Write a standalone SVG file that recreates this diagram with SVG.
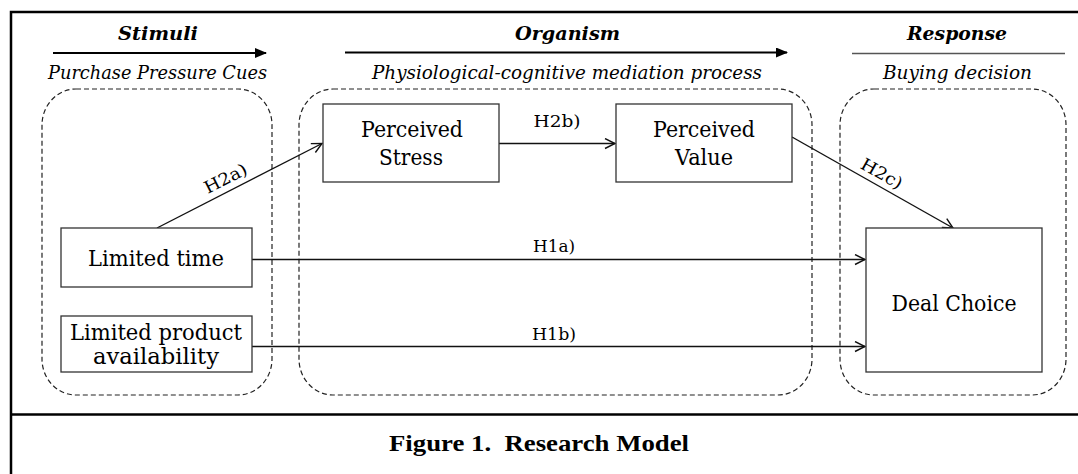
<svg xmlns="http://www.w3.org/2000/svg" width="1078" height="474" viewBox="0 0 1078 474">
<style>
.frame{stroke:#000;stroke-width:2.5;fill:none}
.grp{fill:none;stroke:#222;stroke-width:1.2;stroke-dasharray:5 3}
.node{fill:#fff;stroke:#333;stroke-width:1.3}
.conn{stroke:#111;stroke-width:1.4;fill:none}
.t{font-family:"DejaVu Serif","Liberation Serif",serif;font-size:22px;fill:#000;text-anchor:middle}
.lbl{font-family:"DejaVu Serif","Liberation Serif",serif;font-size:17px;fill:#000;text-anchor:middle}
.hd{font-family:"DejaVu Serif","Liberation Serif",serif;font-size:18px;font-weight:bold;font-style:italic;fill:#000;text-anchor:middle}
.sub{font-family:"DejaVu Serif","Liberation Serif",serif;font-size:19px;font-style:italic;fill:#000;text-anchor:middle}
.cap{font-family:"Liberation Serif","Times New Roman",serif;font-size:24px;font-weight:bold;fill:#000;text-anchor:middle;white-space:pre}
</style>
<defs>
<marker id="open" markerWidth="12" markerHeight="12" refX="11" refY="6" orient="auto" markerUnits="userSpaceOnUse">
<path d="M1,1 L11,6 L1,11" fill="none" stroke="#111" stroke-width="1.4"/>
</marker>
<marker id="solid" markerWidth="12" markerHeight="10" refX="11" refY="5" orient="auto" markerUnits="userSpaceOnUse">
<path d="M0,0 L12,5 L0,10 Z" fill="#000"/>
</marker>
</defs>
<rect width="1078" height="474" fill="#fff"/>
<g id="frame">
<path class="frame" d="M1078,12 H11 V474"/>
<line class="frame" x1="11" y1="414.5" x2="1078" y2="414.5"/>
</g>
<g id="headers">
<text class="hd" x="158" y="40" textLength="80" lengthAdjust="spacingAndGlyphs">Stimuli</text>
<line x1="53" y1="53" x2="266" y2="53" stroke="#000" stroke-width="2" marker-end="url(#solid)"/>
<text class="sub" x="157.5" y="79" textLength="219" lengthAdjust="spacingAndGlyphs">Purchase Pressure Cues</text>
<text class="hd" x="567.5" y="40" textLength="105" lengthAdjust="spacingAndGlyphs">Organism</text>
<line x1="345" y1="52.5" x2="787" y2="52.5" stroke="#000" stroke-width="2" marker-end="url(#solid)"/>
<text class="sub" x="567" y="79" textLength="390" lengthAdjust="spacingAndGlyphs">Physiological-cognitive mediation process</text>
<text class="hd" x="957" y="40" textLength="100" lengthAdjust="spacingAndGlyphs">Response</text>
<line x1="852" y1="53.5" x2="1065" y2="53.5" stroke="#555" stroke-width="1.6"/>
<text class="sub" x="957.5" y="79" textLength="149" lengthAdjust="spacingAndGlyphs">Buying decision</text>
</g>
<g id="groups">
<rect class="grp" x="42" y="89" width="230" height="306" rx="34" ry="36"/>
<rect class="grp" x="299" y="89" width="513" height="306" rx="34" ry="36"/>
<rect class="grp" x="840" y="89" width="226" height="306" rx="34" ry="36"/>
</g>
<g id="connectors">
<line class="conn" x1="157" y1="228" x2="322" y2="143.5" marker-end="url(#open)"/>
<line class="conn" x1="499" y1="143.5" x2="615" y2="143.5" marker-end="url(#open)"/>
<line class="conn" x1="792" y1="137" x2="953" y2="228" marker-end="url(#open)"/>
<line class="conn" x1="252" y1="259.5" x2="865" y2="259.5" marker-end="url(#open)"/>
<line class="conn" x1="252" y1="346.5" x2="865" y2="346.5" marker-end="url(#open)"/>
<text class="lbl" transform="translate(231,189) rotate(-27)" x="0" y="-6" textLength="46" lengthAdjust="spacingAndGlyphs">H2a)</text>
<text class="lbl" x="557" y="127" textLength="47" lengthAdjust="spacingAndGlyphs">H2b)</text>
<text class="lbl" transform="translate(876,184) rotate(29.5)" x="0" y="-6" textLength="45" lengthAdjust="spacingAndGlyphs">H2c)</text>
<text class="lbl" x="554" y="252" textLength="42" lengthAdjust="spacingAndGlyphs">H1a)</text>
<text class="lbl" x="554" y="340" textLength="44" lengthAdjust="spacingAndGlyphs">H1b)</text>
</g>
<g id="node-stress">
<rect class="node" x="323" y="104" width="176" height="78"/>
<text class="t" x="412" y="137" textLength="102" lengthAdjust="spacingAndGlyphs">Perceived</text>
<text class="t" x="411" y="165" textLength="64" lengthAdjust="spacingAndGlyphs">Stress</text>
</g>
<g id="node-value">
<rect class="node" x="616" y="104" width="176" height="78"/>
<text class="t" x="704" y="137" textLength="102" lengthAdjust="spacingAndGlyphs">Perceived</text>
<text class="t" x="704" y="165" textLength="58" lengthAdjust="spacingAndGlyphs">Value</text>
</g>
<g id="node-time">
<rect class="node" x="61" y="228" width="191" height="59"/>
<text class="t" x="156" y="266" textLength="136" lengthAdjust="spacingAndGlyphs">Limited time</text>
</g>
<g id="node-availability">
<rect class="node" x="61" y="316" width="191" height="56"/>
<text class="t" x="156" y="340" textLength="172" lengthAdjust="spacingAndGlyphs">Limited product</text>
<text class="t" x="156" y="364" textLength="126" lengthAdjust="spacingAndGlyphs">availability</text>
</g>
<g id="node-deal">
<rect class="node" x="866" y="228" width="176" height="144"/>
<text class="t" x="954" y="311" textLength="125" lengthAdjust="spacingAndGlyphs">Deal Choice</text>
</g>
<text class="cap" x="539" y="451" textLength="300" lengthAdjust="spacingAndGlyphs">Figure 1.  Research Model</text>
</svg>
